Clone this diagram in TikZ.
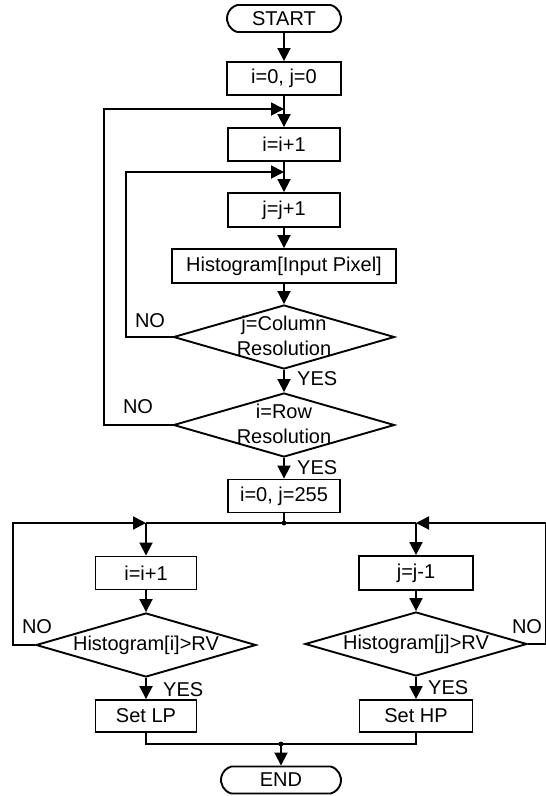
\documentclass[tikz,border=0pt]{standalone}
\usepackage{fontspec}
\setmainfont{Liberation Sans}
\usetikzlibrary{shapes.geometric,shapes.misc,arrows.meta}
\begin{document}
\begin{tikzpicture}[x=1pt,y=-1pt,
  every node/.style={font=\fontsize{20}{25}\selectfont},
  conn/.style={draw, line width=1.9pt},
  arr/.style={conn, -{Triangle[length=13pt,width=13pt]}},
  pbox/.style={draw, line width=1.9pt, rectangle, inner sep=0pt},
  term/.style={draw, line width=1.9pt, rounded rectangle, rounded rectangle arc length=150, inner sep=0pt},
  dia/.style={draw, line width=1.9pt, diamond, inner sep=0pt},
  lab/.style={inner sep=0pt}
]
\useasboundingbox (0,0) rectangle (546,796);

% main column
\node[term, minimum width=114, minimum height=27] (start) at (284,18.5) {START};
\node[pbox, minimum width=114, minimum height=33] (a0) at (284,78.5) {i=0, j=0};
\coordinate (m1) at (284,109);
\node[pbox, minimum width=112, minimum height=33] (a1) at (284,144.5) {i=i+1};
\coordinate (m2) at (284,172);
\node[pbox, minimum width=112, minimum height=34] (a2) at (284,210) {j=j+1};
\node[pbox, minimum width=224, minimum height=34] (a3) at (284,266) {Histogram[Input Pixel]};
\node[dia, minimum width=221, minimum height=64] (d1) at (284,337) {};
\node[align=center, lab] (d1t) at (284,336) {j=Column\\Resolution};
\node[dia, minimum width=221, minimum height=64] (d2) at (284,425) {};
\node[align=center, lab] (d2t) at (284,424) {i=Row\\Resolution};
\node[pbox, minimum width=112, minimum height=33] (a4) at (284,496) {i=0, j=255};

\draw[arr] (start) -- (a0);
\draw[arr] (a0) -- (a1);
\draw[arr] (a1) -- (a2);
\draw[arr] (a2) -- (a3);
\draw[arr] (a3) -- (d1);
\draw[arr] (d1) -- (d2);
\draw[arr] (d2) -- (a4);

\draw[arr] (d1.west) -- ++(-47,0) |- (m2);
\draw[arr] (d2.west) -- ++(-69,0) |- (m1);

\node[lab] (no1) at (150,321) {NO};
\node[lab] (no2) at (138,407) {NO};
\node[lab, anchor=west] (yes1) at (297,379) {YES};
\node[lab, anchor=west] (yes2) at (297,468) {YES};

% branches
\coordinate (jn) at (284,523);
\coordinate (jl) at (146,523);
\coordinate (jr) at (416,523);
\node[pbox, minimum width=101, minimum height=33] (l1) at (146,573) {i=i+1};
\node[pbox, minimum width=114, minimum height=34] (r1) at (416,573) {j=j-1};
\node[dia, minimum width=220, minimum height=64] (ld) at (146,645) {};
\node[lab] (ldt) at (146,645) {Histogram[i]>RV};
\node[dia, minimum width=222, minimum height=64] (rd) at (416,644) {};
\node[lab] (rdt) at (416,644) {Histogram[j]>RV};
\node[pbox, minimum width=101, minimum height=32] (lp) at (146,716) {Set LP};
\node[pbox, minimum width=113, minimum height=32] (hp) at (416,716) {Set HP};
\coordinate (mg) at (281,744);
\node[term, minimum width=120, minimum height=27] (end) at (281,780) {END};

\draw[conn] (a4) -- (jn);
\fill (jn) circle (2.4);
\draw[conn] (jl) -- (jr);
\draw[arr] (jl) -- (l1);
\draw[arr] (jr) -- (r1);
\draw[arr] (l1) -- (ld);
\draw[arr] (r1) -- (rd);
\draw[arr] (ld) -- (lp);
\draw[arr] (rd) -- (hp);
\draw[arr] (ld.west) -- ++(-22,0) |- (jl);
\draw[arr] (rd.east) -- ++(18,0) |- (jr);
\draw[conn] (lp.south) |- (mg) -| (hp.south);
\fill (mg) circle (2.4);
\draw[arr] (mg) -- (end);

\node[lab] (no3) at (37,627) {NO};
\node[lab] (no4) at (527,627) {NO};
\node[lab, anchor=west] (yes3) at (163,690) {YES};
\node[lab, anchor=west] (yes4) at (428,688) {YES};
\end{tikzpicture}
\end{document}
